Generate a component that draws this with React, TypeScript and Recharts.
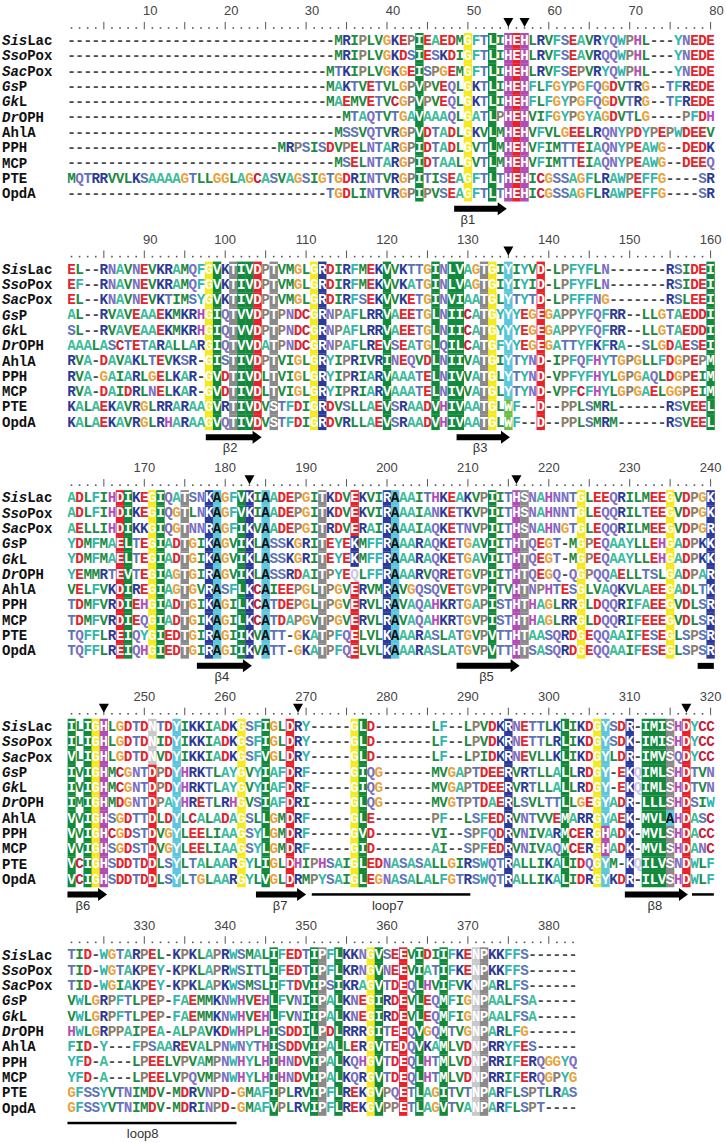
import React from "react";
import { ReferenceArea, Scatter, ScatterChart, XAxis, YAxis } from "recharts";

const SEQUENCE_NAMES = ["SisLac", "SsoPox", "SacPox", "GsP", "GkL", "DrOPH", "AhlA", "PPH", "MCP", "PTE", "OpdA"];
const ITALIC_PREFIX = ["Sis", "Sso", "Sac", "Gs", "Gk", "Dr", "", "", "", "", ""];

const BLOCK_START = [1, 81, 161, 241, 321];

const ALIGN_1_80 = [
  "-".repeat(33) + "MRIPLVGKEPIEAEDMGFTLIHEHLRVFSEAVRYQWPHL---YNEDE",
  "-".repeat(33) + "MRIPLVGKDSIESKDIGFTLIHEHLRVFSEAVRQQWPHL---YNEDE",
  "-".repeat(32) + "MTKIPLVGKGEISPGEMGFTLIHEHLRVFSEPVRYQWPHL---YNEDE",
  "-".repeat(32) + "MAKTVETVLGPVPVEQLGKTLIHEHFLFGYPGFQGDVTRG--TFREDE",
  "-".repeat(32) + "MAEMVETVCGPVPVEQLGKTLIHEHFLFGYPGFQGDVTRG--TFREDE",
  "-".repeat(34) + "MTAQTVTGAVAAAQLGATLPHEHVIFGYPGYAGDVTLG----PFDH",
  "-".repeat(33) + "MSSVQTVRGPVDTADLGKVLMHEHVFVLGEELRQNYPDYPEPWDEEV",
  "-".repeat(26) + "MRPSISDVPELNTARGPIDTADLGVTLMHEHVFIMTTEIAQNYPEAWG--DEDK",
  "-".repeat(33) + "MSELNTARGPIDTAALGVTLMHEHVFIMTTEIAQNYPEAWG--DEEQ",
  "MQTRRVVLKSAAAAGTLLGGLAGCASVAGSIGTGDRINTVRGPITISEAGFTLTHEHICGSSAGFLRAWPEFFG----SR",
  "-".repeat(32) + "TGDLINTVRGPIPVSEAGFTLTHEHICGSSAGFLRAWPEFFG----SR",
];

const ALIGN_81_160 = [
  "EL--RNAVNEVKRAMQFGVKTIVDPTVMGLGRDIRFMEKVVKTTGINLVAGTGIYIYVD-LPFYFLN-------RSIDEI",
  "EF--RNAVNEVKRAMQFGVKTIVDPTVMGLGRDIRFMEKVVKATGINLVAGTGIYIYID-LPFYFLN-------RSIDEI",
  "EL--KNAVNEVKTIMSYGVKTIVDPTVMGLGRDIRFSEKVVKETGINVIAATGLYTYTD-LPFFFNG-------RSLEEI",
  "AL--RVAVEAAEKMKRHGIQTVVDPTPNDCGRNPAFLRRVAEETGLNIICATGYYYEGEGAPPYFQFRR--LLGTAEDDI",
  "SL--RVAVEAAEKMKRHGIQTVVDPTPNDCGRNPAFLRRVAEETGLNIICATGYYYEGEGAPPYFQFRR--LLGTAEDDI",
  "AAALASCTETARALLARGIQTVVDATPNDCGRNPAFLREVSEATGLQILCATGFYYEGEGATTYFKFRA--SLGDAESEI",
  "RVA-DAVAKLTEVKSR-GISTIVDPTVIGLGRYIPRIVRINEQVDLNIIVATGIYTYND-IPFQFHYTGPGLLFDGPEPM",
  "RVA-GAIARLGELKAR-GVDTIVDLTVIGLGRYIPRIARVAAATELNIVVATGLYTYND-VPFYFHYLGPGAQLDGPEIM",
  "RVA-DAIDRLNELKAR-GVDTIVDLTVIGLGRYIPRIARVAAATELNIVVATGLYTYND-VPFCFHYLGPGAELGGPEIM",
  "KALAEKAVRGLRRARAAGVRTIVDVSTFDIGRDVSLLAEVSRAADVHIVAATGLWF--D--PPLSMRL------RSVEEL",
  "KALAEKAVRGLRHARAAGVQTIVDVSTFDIGRDVRLLAEVSRAADVHIVAATGLWF--D--PPLSMRM------RSVEEL",
];

const ALIGN_161_240 = [
  "ADLFIHDIKEGIQATSNKAGFVKIAADEPGITKDVEKVIRAAAITHKEAKVPIITHSNAHNNTGLEEQRILMEEGVDPGK",
  "ADLFIHDIKEGIQGTLNKAGFVKIAADEPGITKDVEKVIRAAAIANKETKVPIITHSNAHNNTGLEQQRILTEEGVDPGK",
  "AELLIHDIKKGIQGTNNRAGFIKVAADEPGITRDVERAIRAAAIAQKETNVPIITHSNAHNGTGLEQQRILMEEGVDPGR",
  "YDMFMAELTEGIADTGIKAGVIKLASSKGRITEYEKMFFRAAARAQKETGAVIITHTQEGT-MGPEQAAYLLEHGADPKK",
  "YDMFMAELTEGIADTGIKAGVIKLASSKGRITEYEKMFFRAAARAQKETGAVIITHTQEGT-MGPEQAAYLLEHGADPKK",
  "YEMMRTEVTEGIAGTGIRAGVIKLASSRDAITPYEQLFFRAAARVQRETGVPIITHTQEGQ-QGPQQAELLTSLGADPAR",
  "VELFVKDIREGIAGTGVRASFLKCAIEEPGLTPGVERVMRAVGQSQVETGVPITVHTNPHTESGLVAQKVLAEEGADLTK",
  "TDMFVRDIEHGIADTGIKAGILKCATDEPGLTPGVERVLRAVAQAHKRTGAPISTHTHAGLRRGLDQQRIFAEEGVDLSR",
  "TDMFVRDIEQGIADTGIKAGILKCATDAPGVTPGVERVLRAVAQAHKRTGVPISTHTHAGLRRGLDQQRIFEEEGVDLSR",
  "TQFFLREIQYGIEDTGIRAGIIKVATT-GKATPFQELVLKAAARASLATGVPVTTHTAASQRDGEQQAAIFESEGLSPSR",
  "TQFFLREIQHGIEDTGIRAGIIKVATT-GKATPFQELVLKAAARASLATGVPVTTHTSASQRDGEQQAAIFESEGLSPSR",
];

const ALIGN_241_320 = [
  "ILIGHLGDTDNTDYIKKIADKGSFIGLDRY-----GLD-------LF--LPVDKRNETTLKLIKDGYSDR-IMISHDYCC",
  "ILIGHLGDTDNIDYIKKIADKGSFIGLDRY-----GLD-------LF--LPVDKRNETTLRLIKDGYSDK-IMISHDYCC",
  "VLIGHLGDTDNVDYIKKIADKGSFVGLDRY-----GLD-------LF--LPIDKRNEVLLKLIKDGYLDR-IMVSQDYCC",
  "IVIGHMCGNTDPDYHRKTLAYGVYIAFDRF-----GIQG------MVGAPTDEERVRTLLALLRDGY-EKQIMLSHDTVN",
  "IVIGHMCGNTDPDYHRKTLAYGVYIAFDRF-----GIQG------MVGAPTDEERVRTLLALLRDGY-EKQIMLSHDTVN",
  "IMIGHMDGNTDPAYHRETLRHGVSIAFDRI-----GLQG------MVGTPTDAERLSVLTTLLGEGYADR-LLLSHDSIW",
  "VVIGHSGDTTDLDYLCALADAGSLLGMDRF-----GLE-------PF--LSFEDRVNTVVEMARRGYAEK-MVLAHDASC",
  "VVIGHCGDSTDVGYLEELIAAGSYLGMDRF-----GVD-------VI--SPFQDRVNIVARMCERGHADK-MVLSHDACC",
  "VVIGHSGDSTDVGYLEELIAAGSYLGMDRF-----GID-------AI--SPFEDRVNIVAQMCERGHADK-MVLSHDANC",
  "VCIGHSDDTDDLSYLTALAARGYLIGLDHIPHSAIGLEDNASASALLGIRSWQTRALLIKALIDQGYM-KQILVSNDWLF",
  "VCIGHSDDTDDLSYLTGLAARGYLVGLDRMPYSAIGLEGNASALALFGTRSWQTRALLIKALIDRGYKDR-ILVSHDWLF",
];

const ALIGN_321_383 = [
  "TID-WGTARPEL-KPKLAPRWSMALIFEDTIPFLKKNGVSEEVIDIIFKENPKKFFS------",
  "TID-WGTAKPEY-KPKLAPRWSITLIFEDTIPFLKRNGVNEEVIATIFKENPKKFFS------",
  "TID-WGIAKPEY-KPKLAPKWSMSLIFTDVIPSIKRAGVTDEQLHVIFVKNPARLFS------",
  "VWLGRPFTLPEP-FAEMMKNWHVEHLFVNIIPALKNEGIRDEVLEQMFIGNPAALFSA-----",
  "VWLGRPFTLPEP-FAEMMKNWHVEHLFVNIIPALKNEGIRDEVLEQMFIGNPAALFSA-----",
  "HWLGRPPAIPEA-ALPAVKDWHPLHISDDILPDLRRRGITEEQVGQMTVGNPARLFG------",
  "FID-Y---FPSAAREVALPNWNYTHISDDVIPALLERGVTEDQVKAMLVDNPRRYFES-----",
  "YFD-A---LPEELVPVAMPNWHYLHIHNDVIPALKQHGVTDEQLHTMLVDNPRRIFERQGGYQ",
  "YFD-A---LPEELVPQVMPNWHYLHIHNDVIPALKQRGVTDEQLHTMLVDNPRRIFERQGPYG",
  "GFSSYVTNIMDV-MDRVNPD-GMAFIPLRVIPFLREKGVPQETLAGITVTNPARFLSPTLRAS",
  "GFSSYVTNIMDV-MDRINPD-GMAFVPLRVIPFLREKGVPPETLAGVTVANPARFLSPT----",
];

const ALIGNMENT_BLOCKS = [ALIGN_1_80, ALIGN_81_160, ALIGN_161_240, ALIGN_241_320, ALIGN_321_383];

// conservation class per column (one code = every row, else one code per row)
// g hydrophobic, y glycine, r acidic, m histidine, b basic, c aromatic/alanine,
// k hydroxyl/proline, l asparagine, w tryptophan, q faint
const CONSERVED_COLUMNS: [number, string][] = [
  [44, "g"], [50, "y"], [53, "g"], [55, "m"], [56, "r"], [57, "m"],
  [98, "y"], [99, "g"], [101, "k"], [102, "g"], [103, "g"], [104, "r"], [106, "k"],
  [111, "y"], [112, "b"], [120, "g"], [126, "g"], [128, "g"], [129, "g"],
  [132, "k"], [133, "y"], [135, "cccccccccww"], [139, "r"], [160, "g"],
  [167, "r"], [168, "g"], [171, "y"], [172, "g"], [175, "k"], [178, "b"], [179, "c"],
  [182, "g"], [183, "b"], [185, "c"], [192, "k"], [196, "rrrbbqrrrrr"], [200, "b"],
  [201, "c"], [213, "g"], [216, "m"], [217, "k"], [224, "y"], [235, "y"], [240, "b"],
  [241, "g"], [243, "g"], [244, "y"], [245, "m"], [251, "lllrrrrrrrr"], [254, "c"],
  [262, "y"], [265, "g"], [268, "r"], [276, "y"], [277, "g"], [295, "b"], [302, "g"],
  [306, "y"], [307, "cccccccmmcc"], [310, "b"], [311, "...qq....q."], [312, "g"],
  [313, "g"], [314, "g"], [315, "kkkkkkckkkk"], [317, "r"],
  [346, "g"], [351, "g"], [352, "k"], [354, "g"], [358, "y"], [359, "g"], [362, "r"],
  [364, "g"], [367, "g"], [371, "l"], [372, "k"],
];

const ACTIVE_SITE_COLUMNS = [55, 57, 135, 183, 216, 245, 269, 317];

const SECONDARY_ELEMENTS = [
  { kind: "strand", from: 48.3, to: 54.8 },
  { kind: "strand", from: 97.6, to: 104.5 },
  { kind: "strand", from: 128.6, to: 135.2 },
  { kind: "strand", from: 176.5, to: 183.3 },
  { kind: "strand", from: 208.6, to: 216.4 },
  { kind: "bar", from: 238.4, to: 240.4 },
  { kind: "strand", from: 240.5, to: 245.4 },
  { kind: "strand", from: 263.8, to: 270 },
  { kind: "line", from: 270.7, to: 290.3 },
  { kind: "strand", from: 309.4, to: 317.2 },
  { kind: "line", from: 317.7, to: 320.4 },
  { kind: "line", from: 320.5, to: 341.4 },
];

const SECONDARY_LABELS = [
  { text: "β1", at: 50 },
  { text: "β2", at: 100.6 },
  { text: "β3", at: 131.5 },
  { text: "β4", at: 179.6 },
  { text: "β5", at: 212.3 },
  { text: "β6", at: 242.4 },
  { text: "β7", at: 266.8 },
  { text: "loop7", at: 280.1 },
  { text: "β8", at: 313.1 },
  { text: "loop8", at: 329.8 },
];

const RESIDUE_COLOR: Record<string, string> = {
  A: "#3dbd9c", V: "#1e8a42", L: "#1e8a42", I: "#1e8a42", M: "#1e8a42",
  F: "#30b6ae", Y: "#30b6ae", W: "#30b6ae", C: "#c41e3a",
  D: "#e4232b", E: "#e4232b", K: "#2c3a96", R: "#2c3a96", H: "#b04fb8",
  N: "#7b70c4", Q: "#7b70c4", S: "#5b74b8", T: "#5b74b8",
  G: "#e9a23b", P: "#8c7e6e", "-": "#4a4a4a",
};

const CLASS_FILL: Record<string, string> = {
  g: "#128a3c", y: "#f6ea1c", r: "#e8212a", m: "#b04cb2", b: "#2b3a9c",
  c: "#5cc6de", k: "#8a8a8a", l: "#c9c9c9", w: "#6cbf45",
};

const W = 726;
const H = 1143;
const NAME_W = 67.45;
const RIGHT_GAP = 11.35;
const MARGIN = { top: 2.45, right: 0, bottom: 0.7, left: 0 };
const CELL_W = (W - NAME_W - RIGHT_GAP) / 80;
const X_MAX = 80.5 + RIGHT_GAP / CELL_W;
const PITCH = 14.94;
const ROW_NUMBERS = -1.96;
const ROW_SITES = -1.19;
const ROW_DOTS = -0.9;
const ROW_ARROW = 10.98;
const ROW_LABEL = 11.67;
const MONO = "'Liberation Mono', 'Courier New', monospace";
const SANS = "'Liberation Sans', Arial, sans-serif";

const blockOf = (col: number) => Math.floor((col - 0.5) / 80);

const residues: any[] = [];
ALIGNMENT_BLOCKS.forEach((rows, b) => {
  rows.forEach((seq, r) => {
    seq.split("").forEach((ch, i) => {
      const col = BLOCK_START[b] + i;
      const entry = CONSERVED_COLUMNS.find(([c]) => c === col);
      const cls = entry ? (entry[1].length === 1 ? entry[1] : entry[1][r]) : ".";
      residues.push({ x: i + 1, y: b * PITCH + r, ch, cls });
    });
  });
});

const rulerMarks: any[] = [];
const rulerNumbers: any[] = [];
ALIGNMENT_BLOCKS.forEach((rows, b) => {
  for (let i = 1; i <= rows[0].length; i++) {
    const col = BLOCK_START[b] + i - 1;
    rulerMarks.push({ x: i, y: b * PITCH + ROW_DOTS, major: col % 5 === 0 });
    if (col % 10 === 0) rulerNumbers.push({ x: i, y: b * PITCH + ROW_NUMBERS, text: String(col) });
  }
});

const sites = ACTIVE_SITE_COLUMNS.map((col) => {
  const b = blockOf(col);
  return { x: col - BLOCK_START[b] + 1, y: b * PITCH + ROW_SITES };
});

const structureLabels = SECONDARY_LABELS.map((l) => {
  const b = blockOf(l.at);
  return { x: l.at - BLOCK_START[b] + 1, y: b * PITCH + ROW_LABEL, text: l.text };
});

const nameTicks: number[] = [];
for (let b = 0; b < 5; b++) for (let r = 0; r < 11; r++) nameTicks.push(b * PITCH + r);

function ResidueCell(props: any) {
  const { cx, cy, payload } = props;
  const bg = CLASS_FILL[payload.cls];
  let color = RESIDUE_COLOR[payload.ch] ?? "#333";
  if (bg) color = payload.cls === "c" && payload.ch === "A" ? "#111" : "#fff";
  if (payload.cls === "q") color = "#cbc6ea";
  return (
    <g>
      {bg && <rect x={cx - CELL_W / 2 - 0.15} y={cy - 7.7} width={CELL_W + 0.3} height={15.5} fill={bg} />}
      <text x={cx} y={cy} dy="0.3em" textAnchor="middle" fill={color} fontFamily={MONO} fontWeight="bold" fontSize={14.3}>
        {payload.ch}
      </text>
    </g>
  );
}

function RulerMark(props: any) {
  const { cx, cy, payload } = props;
  if (payload.major) return <line x1={cx} x2={cx} y1={cy - 5} y2={cy + 2.5} stroke="#555" strokeWidth={1} />;
  return <rect x={cx - 0.8} y={cy + 0.3} width={1.6} height={1.6} fill="#555" />;
}

function RulerNumber(props: any) {
  const { cx, cy, payload } = props;
  const dx = payload.text.length === 2 ? 6 : 0;
  return (
    <text x={cx + dx} y={cy} dy="0.35em" textAnchor="middle" fill="#444" fontFamily={SANS} fontSize={13}>
      {payload.text}
    </text>
  );
}

function SiteMarker(props: any) {
  const { cx, cy } = props;
  return <path d={`M${cx - 5},${cy - 4.5} L${cx + 5},${cy - 4.5} L${cx},${cy + 4.5} Z`} fill="#000" />;
}

function StructureLabel(props: any) {
  const { cx, cy, payload } = props;
  return (
    <text x={cx} y={cy} dy="0.35em" textAnchor="middle" fill="#333" fontFamily={SANS} fontSize={13}>
      {payload.text}
    </text>
  );
}

function StructureShape(props: any) {
  const { kind } = props;
  const x = Math.min(props.x, props.x + props.width);
  const w = Math.abs(props.width);
  const mid = Math.min(props.y, props.y + props.height) + Math.abs(props.height) / 2;
  if (kind === "strand") {
    const x2 = x + w;
    const hx = x2 - 9;
    return (
      <polygon
        points={`${x},${mid - 3} ${hx},${mid - 3} ${hx},${mid - 6.5} ${x2},${mid} ${hx},${mid + 6.5} ${hx},${mid + 3} ${x},${mid + 3}`}
        fill="#000"
      />
    );
  }
  const h = kind === "bar" ? 6 : 2.5;
  return <rect x={x} y={mid - h / 2} width={w} height={h} fill="#000" />;
}

function NameTick(props: any) {
  const { y, payload } = props;
  const v = payload.value;
  const b = Math.floor((v + 0.5) / PITCH);
  const r = Math.round(v - b * PITCH);
  const name = SEQUENCE_NAMES[r];
  const it = ITALIC_PREFIX[r];
  return (
    <text x={2} y={y} dy="0.32em" fill="#111" fontFamily={MONO} fontWeight="bold" fontSize={14}>
      {it && <tspan fontStyle="italic">{it}</tspan>}
      <tspan>{name.slice(it.length)}</tspan>
    </text>
  );
}

export default function App() {
  return (
    <div style={{ position: "absolute", left: 0, top: 0, width: W, height: H, background: "#fff" }}>
      <ScatterChart width={W} height={H} margin={MARGIN}>
        <XAxis type="number" dataKey="x" domain={[0.5, X_MAX]} allowDataOverflow hide />
        <YAxis
          type="number"
          dataKey="y"
          domain={[-2.5, 72]}
          reversed
          allowDataOverflow
          width={NAME_W}
          ticks={nameTicks}
          interval={0}
          axisLine={false}
          tickLine={false}
          tick={<NameTick />}
        />
        {SECONDARY_ELEMENTS.map((s, i) => {
          const b = blockOf(s.from);
          const off = BLOCK_START[b] - 1;
          return (
            <ReferenceArea
              key={i}
              x1={s.from - off}
              x2={s.to - off}
              y1={b * PITCH + ROW_ARROW - 0.5}
              y2={b * PITCH + ROW_ARROW + 0.5}
              ifOverflow="visible"
              shape={(p: any) => <StructureShape {...p} kind={s.kind} />}
            />
          );
        })}
        <Scatter data={residues} shape={ResidueCell} isAnimationActive={false} legendType="none" />
        <Scatter data={rulerMarks} shape={RulerMark} isAnimationActive={false} legendType="none" />
        <Scatter data={rulerNumbers} shape={RulerNumber} isAnimationActive={false} legendType="none" />
        <Scatter data={sites} shape={SiteMarker} isAnimationActive={false} legendType="none" />
        <Scatter data={structureLabels} shape={StructureLabel} isAnimationActive={false} legendType="none" />
      </ScatterChart>
    </div>
  );
}
